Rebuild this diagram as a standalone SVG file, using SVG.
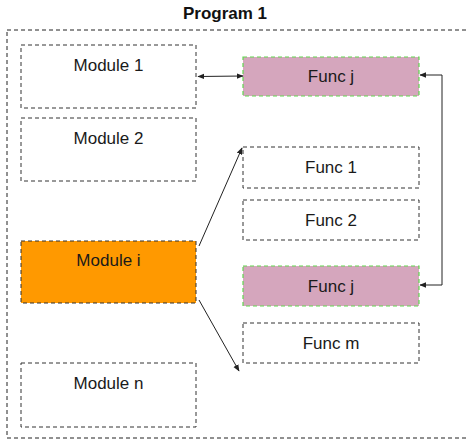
<svg xmlns="http://www.w3.org/2000/svg" width="468" height="439" viewBox="0 0 468 439">
  <defs>
    <style>
      .frame { fill: none; stroke: #222; stroke-width: 1; stroke-dasharray: 4 3; }
      .box { fill: #fff; stroke: #333; stroke-width: 1; stroke-dasharray: 4 3; }
      .hot { fill: #ff9900; stroke: #333; stroke-width: 1; stroke-dasharray: 4 3; }
      .pink { fill: #d5a6bd; stroke: #62d650; stroke-width: 1.2; stroke-dasharray: 4 3; }
      .lbl { font-family: "Liberation Sans", Arial, sans-serif; font-size: 17px; fill: #1a1a1a; text-anchor: middle; }
      .title { font-family: "Liberation Sans", Arial, sans-serif; font-size: 17px; font-weight: bold; fill: #111; text-anchor: middle; }
      .link { fill: none; stroke: #222; stroke-width: 1; }
    </style>
    <marker id="arrowEnd" viewBox="0 0 10 10" refX="9" refY="5" markerWidth="7" markerHeight="7" orient="auto-start-reverse" markerUnits="userSpaceOnUse">
      <path d="M0,1 L10,5 L0,9 Z" fill="#222"/>
    </marker>
  </defs>

  <rect width="468" height="439" fill="#fff"/>

  <!-- program frame -->
  <g id="program">
    <rect class="frame" x="7" y="30" width="470" height="408"/>
    <text class="title" x="225" y="19">Program 1</text>
  </g>

  <!-- modules -->
  <g id="module-1">
    <rect class="box" x="21" y="45" width="175" height="63"/>
    <text class="lbl" x="108.5" y="70.5">Module 1</text>
  </g>
  <g id="module-2">
    <rect class="box" x="21" y="118" width="175" height="63"/>
    <text class="lbl" x="108.5" y="143.5">Module 2</text>
  </g>
  <g id="module-i">
    <rect class="hot" x="21" y="241" width="175" height="62"/>
    <text class="lbl" x="108.5" y="265.5">Module i</text>
  </g>
  <g id="module-n">
    <rect class="box" x="21" y="363" width="175" height="64"/>
    <text class="lbl" x="108.5" y="388.5">Module n</text>
  </g>

  <!-- functions -->
  <g id="func-j-top">
    <rect class="pink" x="243" y="57" width="176" height="39"/>
    <text class="lbl" x="331" y="82">Func j</text>
  </g>
  <g id="func-1">
    <rect class="box" x="243" y="147" width="176" height="41"/>
    <text class="lbl" x="331" y="173">Func 1</text>
  </g>
  <g id="func-2">
    <rect class="box" x="243" y="200" width="176" height="40"/>
    <text class="lbl" x="331" y="226">Func 2</text>
  </g>
  <g id="func-j-bottom">
    <rect class="pink" x="243" y="266" width="176" height="40"/>
    <text class="lbl" x="331" y="292">Func j</text>
  </g>
  <g id="func-m">
    <rect class="box" x="243" y="323" width="176" height="40"/>
    <text class="lbl" x="331" y="348.5">Func m</text>
  </g>

  <!-- connectors -->
  <g id="connectors">
    <path class="link" d="M198,76.5 L243,76" marker-start="url(#arrowEnd)" marker-end="url(#arrowEnd)"/>
    <path class="link" d="M420,75 H442 V285 H420" marker-start="url(#arrowEnd)" marker-end="url(#arrowEnd)"/>
    <path class="link" d="M199,246 L242,148" marker-end="url(#arrowEnd)"/>
    <path class="link" d="M199,300 L239,371" marker-end="url(#arrowEnd)"/>
  </g>
</svg>
